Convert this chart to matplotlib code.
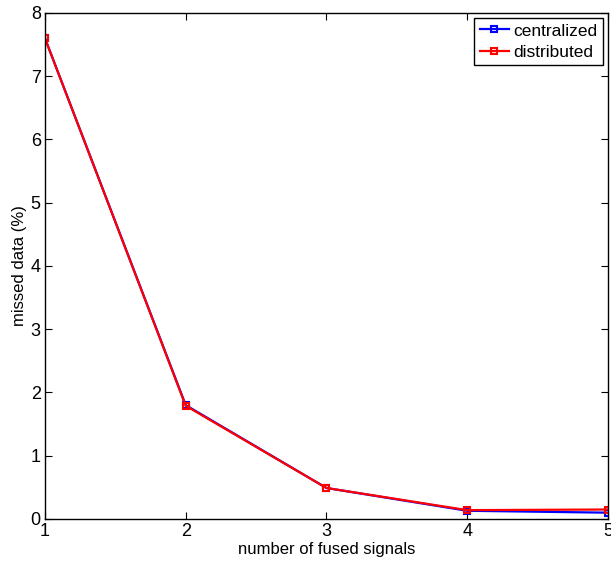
import matplotlib
matplotlib.use("Agg")
import matplotlib.pyplot as plt

plt.rcParams['font.family'] = ['Liberation Sans', 'DejaVu Sans']

x = [1, 2, 3, 4, 5]
centralized = [7.6, 1.80, 0.49, 0.13, 0.10]
distributed = [7.6, 1.79, 0.49, 0.14, 0.15]

fig = plt.figure(figsize=(6.11, 5.64), dpi=100)
ax = fig.add_axes([0.0736, 0.0798, 0.9214, 0.8972])
ax.plot(x, centralized, color='blue', marker='s', markersize=4, linewidth=1.6,
        markerfacecolor='none', markeredgewidth=1.5, label='centralized')
ax.plot(x, distributed, color='red', marker='s', markersize=4, linewidth=1.6,
        markerfacecolor='none', markeredgewidth=1.5, label='distributed')
ax.set_xlim(1, 5)
ax.set_ylim(0, 8)
ax.set_xticks([1, 2, 3, 4, 5])
ax.set_yticks(range(0, 9))
ax.tick_params(direction='in', top=True, right=True, labelsize=13, length=5, width=0.8, pad=3)
ax.set_xlabel('number of fused signals', fontsize=12, labelpad=1)
ax.set_ylabel('missed data (%)', fontsize=12, labelpad=3)
for s in ax.spines.values():
    s.set_linewidth(1.0)
leg = ax.legend(loc='upper right', fontsize=12.5, fancybox=False, edgecolor='black',
                framealpha=1, handlelength=1.7, borderpad=0.3, labelspacing=0.35,
                handletextpad=0.25, borderaxespad=0.3)
leg.get_frame().set_linewidth(1.0)
fig.savefig('out.png', dpi=100)
